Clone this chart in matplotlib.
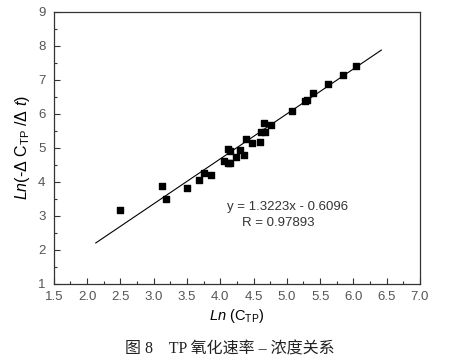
import matplotlib
matplotlib.use("Agg")
import matplotlib.pyplot as plt
import numpy as np

plt.rcParams['font.family'] = ['Liberation Sans', 'DejaVu Sans']
plt.rcParams['mathtext.fontset'] = 'custom'
plt.rcParams['mathtext.rm'] = 'Liberation Sans'
plt.rcParams['mathtext.it'] = 'Liberation Sans:italic'

# data
ln_c = [2.49, 3.12, 3.19, 3.50, 3.68, 3.76, 3.86, 4.05, 4.12, 4.15,
        4.12, 4.15, 4.24, 4.30, 4.36, 4.39, 4.47, 4.59, 4.61, 4.67,
        4.65, 4.76, 5.08, 5.27, 5.31, 5.39, 5.62, 5.85, 6.04]
ln_rate = [3.18, 3.88, 3.50, 3.83, 4.05, 4.26, 4.21, 4.63, 4.55, 4.57,
           4.96, 4.90, 4.74, 4.94, 4.79, 5.26, 5.14, 5.17, 5.47, 5.47,
           5.73, 5.68, 6.09, 6.38, 6.41, 6.63, 6.87, 7.16, 7.40]
slope = 1.3223
intercept = -0.6096
fit_x = [2.13, 6.42]

grey = '#555555'

fig = plt.figure(figsize=(4.6, 3.61), dpi=100)
ax = fig.add_axes([0.117, 0.2133, 0.796, 0.7535])

ax.scatter(ln_c, ln_rate, marker='s', s=22, color='black', zorder=3)
fx = np.array(fit_x)
ax.plot(fx, slope * fx + intercept, color='black', lw=0.8)

ax.text(4.10, 3.26, 'y = 1.3223x - 0.6096', fontsize=9.5, color='#333333', va='center')
ax.text(4.32, 2.79, 'R = 0.97893', fontsize=9.5, color='#333333', va='center')

ax.set_xlim(1.5, 7.0)
ax.set_ylim(1, 9)
ax.set_xticks(np.arange(1.5, 7.01, 0.5))
ax.set_xticks(np.arange(1.75, 7.0, 0.5), minor=True)
ax.set_yticks(np.arange(1, 9.01, 1))
ax.set_yticks(np.arange(1.5, 9, 1), minor=True)
ax.set_xticklabels([f'{v:.1f}' for v in np.arange(1.5, 7.01, 0.5)])
ax.tick_params(which='both', direction='in', labelsize=9.5, labelcolor=grey,
               color='#333333', width=0.8)
ax.tick_params(which='major', length=4)
ax.tick_params(which='minor', length=2)
ax.tick_params(axis='x', pad=5)
ax.tick_params(axis='y', pad=6)
for s in ax.spines.values():
    s.set_color('#333333')
    s.set_linewidth(0.9)

ax.set_xlabel(r'$\mathit{Ln}$ (C$_{\mathrm{TP}}$)', fontsize=10.5, labelpad=3)
ax.set_ylabel(r'$\mathit{Ln}$(-$\Delta$ C$_{\mathrm{TP}}$ /$\Delta$ $\mathit{t}$)', fontsize=11.5, labelpad=4)

fig.text(0.5, 0.02, '图 8    TP 氧化速率 – 浓度关系', ha='center', fontsize=11.5,
         family=['Liberation Serif', 'Noto Sans CJK SC'], color='#222222')

fig.savefig('out.png', dpi=100)
